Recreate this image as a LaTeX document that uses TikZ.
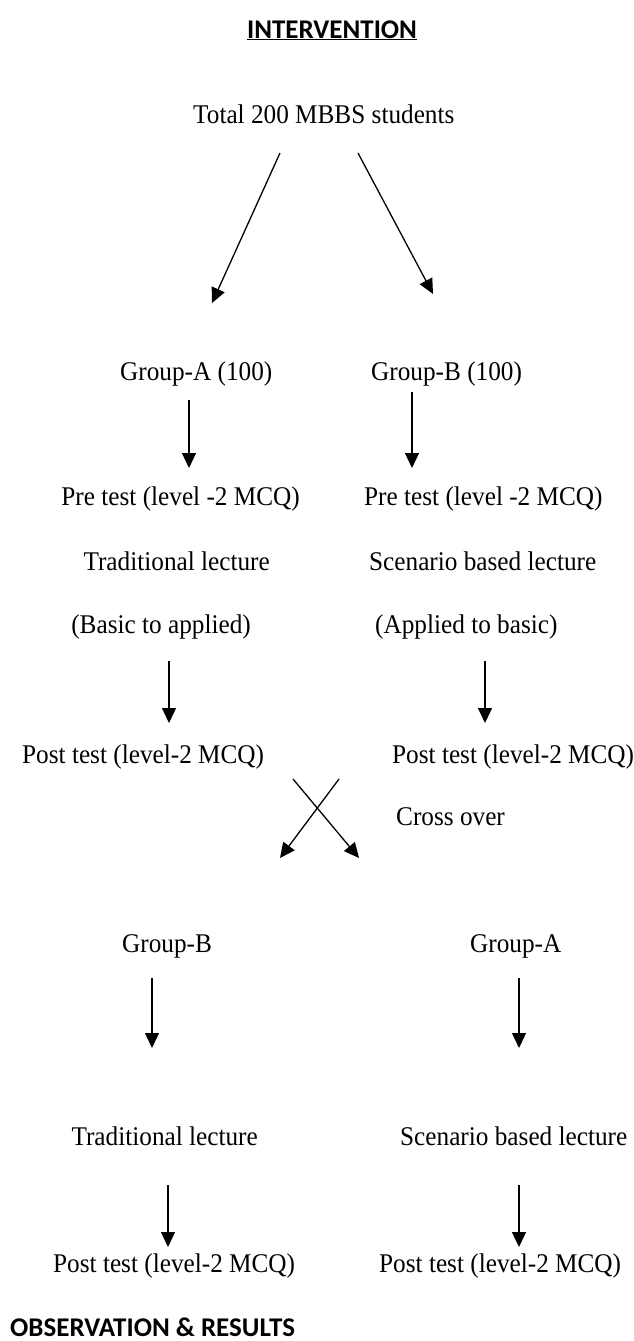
\documentclass[tikz,border=0pt]{standalone}
\usepackage{fontspec}
\setmainfont{Liberation Serif}[FakeStretch=0.935]
\newfontfamily\headfont{Carlito}
\usetikzlibrary{arrows.meta}
\tikzset{
  lbl/.style={inner sep=0pt, font=\fontsize{27}{30}\selectfont},
  head/.style={inner sep=0pt, font=\headfont\bfseries\fontsize{27}{30}\selectfont},
  arr/.style={line width=1.3pt, -{Triangle[length=15pt,width=14pt]}}
}
\begin{document}
\begin{tikzpicture}[x=1pt,y=-1pt]
\useasboundingbox (0,0) rectangle (634,1341);
\node[head, anchor=base] (int) at (332,38) {\underline{INTERVENTION}};
\node[lbl, anchor=base west] (tot) at (193,123) {Total 200 MBBS students};
\node[lbl, anchor=base west] (ga) at (120,380) {Group-A (100)};
\node[lbl, anchor=base west] (gb) at (371,380) {Group-B (100)};
\node[lbl, anchor=base east] (prea) at (300,505) {Pre test (level -2 MCQ)};
\node[lbl, anchor=base west] (preb) at (364,505) {Pre test (level -2 MCQ)};
\node[lbl, anchor=base east] (trada) at (270,570) {Traditional lecture};
\node[lbl, anchor=base west] (scenb) at (369,570) {Scenario based lecture};
\node[lbl, anchor=base east] (basa) at (251,633) {(Basic to applied)};
\node[lbl, anchor=base west] (appb) at (375,633) {(Applied to basic)};
\node[lbl, anchor=base west] (posta) at (22,763) {Post test (level-2 MCQ)};
\node[lbl, anchor=base west] (postb) at (392,763) {Post test (level-2 MCQ)};
\node[lbl, anchor=base west] (cross) at (396,825) {Cross over};
\node[lbl, anchor=base west] (gb2) at (122,952) {Group-B};
\node[lbl, anchor=base west] (ga2) at (470,952) {Group-A};
\node[lbl, anchor=base east] (trad2) at (258,1145) {Traditional lecture};
\node[lbl, anchor=base west] (scen2) at (400,1145) {Scenario based lecture};
\node[lbl, anchor=base west] (post2a) at (53,1272) {Post test (level-2 MCQ)};
\node[lbl, anchor=base west] (post2b) at (379,1272) {Post test (level-2 MCQ)};
\node[head, anchor=base west, text depth=0pt] (obs) at (10,1336) {OBSERVATION \& RESULTS};
% arrow ends
\coordinate (t1) at (280,153); \coordinate (h1) at (212,303);
\coordinate (t2) at (358,153); \coordinate (h2) at (433,294);
\coordinate (t3) at (189,400); \coordinate (h3) at (189,468);
\coordinate (t4) at (412,392); \coordinate (h4) at (412,468);
\coordinate (t5) at (169,661); \coordinate (h5) at (169,723);
\coordinate (t6) at (485,661); \coordinate (h6) at (485,723);
\coordinate (t7) at (293,779); \coordinate (h7) at (359,858);
\coordinate (t8) at (339,779); \coordinate (h8) at (280,858);
\coordinate (t9) at (152,978); \coordinate (h9) at (152,1048);
\coordinate (t10) at (519,978); \coordinate (h10) at (519,1048);
\coordinate (t11) at (168,1185); \coordinate (h11) at (168,1247);
\coordinate (t12) at (519,1185); \coordinate (h12) at (519,1247);
\foreach \i in {1,...,12} {\draw[arr] (t\i) -- (h\i);}
\end{tikzpicture}
\end{document}
